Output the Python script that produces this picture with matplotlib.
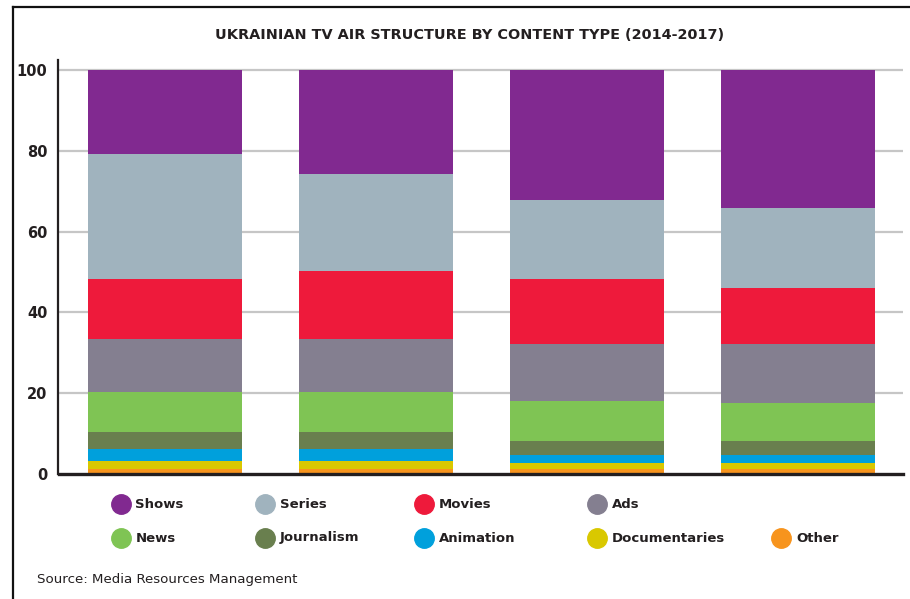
import matplotlib
matplotlib.use("Agg")
import matplotlib.pyplot as plt
from matplotlib.lines import Line2D
import numpy as np

years = ["2014", "2015", "2016", "2017"]
categories = ["Shows", "Series", "Movies", "Ads", "News", "Journalism",
              "Animation", "Documentaries", "Other"]
# stacked from bottom: Other, Documentaries, Animation, Journalism, News, Ads, Movies, Series, Shows
other = [1.0, 1.0, 1.1, 1.1]
documentaries = [2.1, 2.1, 1.5, 1.5]
animation = [2.9, 2.9, 2.0, 2.0]
journalism = [4.3, 4.3, 3.5, 3.5]
news = [9.9, 9.9, 9.9, 9.4]
ads = [13.2, 13.2, 14.1, 14.6]
movies = [14.9, 16.8, 16.2, 13.9]
series = [31.0, 24.1, 19.6, 19.9]
shows = [20.7, 25.7, 32.1, 34.1]
y_ticks = [0, 20, 40, 60, 80, 100]

colors = {
    "Shows": "#812990", "Series": "#a0b3be", "Movies": "#ee1a3b",
    "Ads": "#847f90", "News": "#7fc454", "Journalism": "#697f4e",
    "Animation": "#00a0dc", "Documentaries": "#d9c800", "Other": "#f7941d",
}
stack_order = [("Other", other), ("Documentaries", documentaries),
               ("Animation", animation), ("Journalism", journalism),
               ("News", news), ("Ads", ads), ("Movies", movies),
               ("Series", series), ("Shows", shows)]

W, H = 910, 599
fig = plt.figure(figsize=(W / 100, H / 100), dpi=100)
fig.patch.set_facecolor("white")
FAM = ["Liberation Sans Narrow", "DejaVu Sans"]

def fx(px):
    return px / W

def fy(py):
    return 1 - py / H

ax = fig.add_axes([fx(58.5), fy(473.5), fx(903) - fx(58.5), fy(60) - fy(473.5)])
x = np.arange(len(years))
bottom = np.zeros(len(years))
for name, vals in stack_order:
    ax.bar(x, vals, bottom=bottom, width=0.73, color=colors[name],
           linewidth=0, zorder=3)
    bottom += np.array(vals)

ax.set_xlim(-0.505, 3.5)
ax.set_ylim(0, 102.6)
ax.set_yticks(y_ticks)
ax.set_yticklabels([str(v) for v in y_ticks], fontsize=10.5, fontweight="bold",
                   color="#231f20")
ax.set_xticks([])
ax.tick_params(axis="y", length=0, pad=8)
for v in y_ticks[1:]:
    ax.axhline(v, color="#c6c6c6", linewidth=1.6, zorder=1)
for s in ["top", "right"]:
    ax.spines[s].set_visible(False)
ax.spines["left"].set_color("#231f20")
ax.spines["left"].set_linewidth(1.6)
ax.spines["bottom"].set_color("#231f20")
ax.spines["bottom"].set_linewidth(2.4)
ax.spines["bottom"].set_zorder(5)

# Title
fig.text(fx(470), fy(35), "UKRAINIAN TV AIR STRUCTURE BY CONTENT TYPE (2014-2017)",
         ha="center", va="center", fontsize=10.4, fontweight="bold",
         family=FAM, color="#231f20")

# Source
fig.text(fx(37), fy(579), "Source: Media Resources Management", ha="left",
         va="center", fontsize=9.6, family=FAM, color="#231f20")

# Legend (manual)
col_x = [120.5, 265, 424, 596.5, 781]
row_y = [504, 538]
layout = [("Shows", 0, 0), ("Series", 0, 1), ("Movies", 0, 2), ("Ads", 0, 3),
          ("News", 1, 0), ("Journalism", 1, 1), ("Animation", 1, 2),
          ("Documentaries", 1, 3), ("Other", 1, 4)]
for name, r, c in layout:
    fig.add_artist(Line2D([fx(col_x[c])], [fy(row_y[r])], marker="o",
                          markersize=14, color=colors[name], linestyle="none",
                          transform=fig.transFigure))
    fig.text(fx(col_x[c] + 15), fy(row_y[r]), name, ha="left", va="center",
             fontsize=9.5, fontweight="bold", family=FAM, color="#231f20")

# Frame lines
fig.add_artist(Line2D([fx(13), fx(910)], [fy(7), fy(7)], color="#111111",
                      linewidth=1.6, transform=fig.transFigure))
fig.add_artist(Line2D([fx(13), fx(13)], [fy(7), fy(599)], color="#111111",
                      linewidth=1.6, transform=fig.transFigure))

fig.savefig("out.png", dpi=100)
